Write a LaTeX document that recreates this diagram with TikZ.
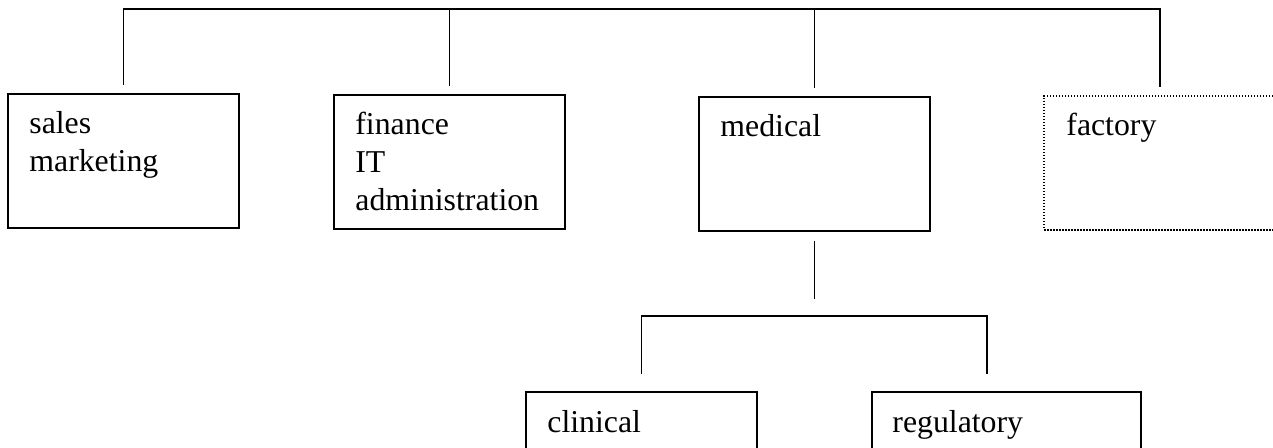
\documentclass[tikz,border=0pt]{standalone}
\usepackage{fontspec}
\setmainfont{Liberation Serif}
\begin{document}
\begin{tikzpicture}[
    x=0.5pt, y=-0.5pt,
    box/.style={rectangle, draw, line width=1pt, anchor=north west, inner sep=0pt, outer sep=0pt, minimum width=115.5pt, minimum height=67pt},
    planned/.style={box, dash pattern=on 0.75pt off 0.75pt},
    lbl/.style={anchor=base west, inner sep=0pt, align=left, font=\fontsize{15.9}{19}\selectfont},
    link/.style={line width=0.9pt}
]
    \useasboundingbox (0,0) rectangle (1273,448);

    % Departments (base of a multi-line label sits on its last line)
    \node[box] (sales) at (8,94) {};
    \node[lbl] (salesT) at ([shift={(21,78)}]sales.north west) {sales\\marketing};

    \node[box] (finance) at (334,95) {};
    \node[lbl] (financeT) at ([shift={(21,116)}]finance.north west) {finance\\IT\\administration};

    \node[box] (medical) at (699,97) {};
    \node[lbl] (medicalT) at ([shift={(21,40)}]medical.north west) {medical};

    \node[planned, minimum width=116pt] (factory) at (1044,96) {};
    \node[lbl] (factoryT) at ([shift={(22,40)}]factory.north west) {factory};

    % Medical sub-units
    \node[box] (clinical) at (526,392) {};
    \node[lbl] (clinicalT) at ([shift={(21,40)}]clinical.north west) {clinical};

    \node[box, minimum width=134.5pt] (regulatory) at (872,392) {};
    \node[lbl] (regulatoryT) at ([shift={(20,40)}]regulatory.north west) {regulatory};

    % Top bus
    \coordinate (bus) at (0,9);
    \draw[link] ([yshift=4.5pt]sales.north) -- (sales.north |- bus) -- (factory.north |- bus) -- ([yshift=4.5pt]factory.north);
    \draw[link] ([yshift=4.5pt]finance.north) -- (finance.north |- bus);
    \draw[link] ([yshift=4.5pt]medical.north) -- (medical.north |- bus);

    % Lower bus
    \coordinate (medstem) at (814.5,299);
    \coordinate (bus2) at (0,316);
    \coordinate (regstub) at (987,374);
    \draw[link] ([yshift=-5pt]medical.south) -- (medical.south |- medstem);
    \draw[link] ([yshift=9pt]clinical.north) -- (clinical.north |- bus2) -- (regstub |- bus2) -- (regstub);
\end{tikzpicture}
\end{document}
